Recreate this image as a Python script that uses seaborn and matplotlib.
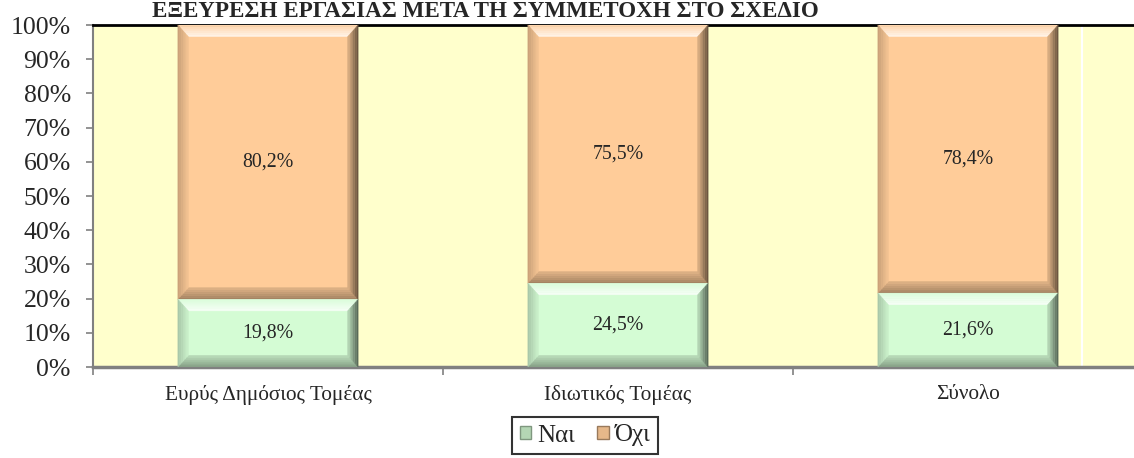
import numpy as np
import pandas as pd
import matplotlib
matplotlib.use("Agg")
import matplotlib.pyplot as plt
import seaborn as sns
from matplotlib.patches import Polygon, Patch
from matplotlib.colors import to_rgb

categories = ["Ευρύς Δημόσιος Τομέας", "Ιδιωτικός Τομέας", "Σύνολο"]
nai = [19.8, 24.5, 21.6]
oxi = [80.2, 75.5, 78.4]
series_names = ["Ναι", "Όχι"]
title = "ΕΞΕΥΡΕΣΗ ΕΡΓΑΣΙΑΣ ΜΕΤΑ ΤΗ ΣΥΜΜΕΤΟΧΗ ΣΤΟ ΣΧΕΔΙΟ"

df = pd.DataFrame({"cat": categories, "nai": nai, "oxi": oxi})
df["total"] = df["nai"] + df["oxi"]

sns.set_style("white")
plt.rcParams["font.family"] = ["Liberation Serif", "DejaVu Serif"]

green = "#D4FCD4"
orange = "#FFCC99"
bg = "#FFFFCC"


def shade(c, f):
    r, g, b = to_rgb(c)
    if f >= 0:
        return (r + (1 - r) * f, g + (1 - g) * f, b + (1 - b) * f)
    return (r * (1 + f), g * (1 + f), b * (1 + f))


def bevel(ax, p, face, bands=6):
    # soft 3d bevel built from the bar's own rectangle
    x0, y0 = p.get_x(), p.get_y()
    x1, y1 = x0 + p.get_width(), y0 + p.get_height()
    dx, dy = 0.03, 3.4
    # (outer shade, inner shade) for top, bottom, left, right
    sides = {"top": (0.15, 0.8), "bottom": (-0.38, -0.12),
             "left": (-0.22, -0.04), "right": (-0.62, -0.12)}
    edges = np.linspace(0, 1, bands + 1)
    for a, b in zip(edges[:-1], edges[1:]):
        t = (a + b) / 2
        polys = {
            "top": [(x0 + dx * a, y1 - dy * a), (x1 - dx * a, y1 - dy * a),
                    (x1 - dx * b, y1 - dy * b), (x0 + dx * b, y1 - dy * b)],
            "bottom": [(x0 + dx * a, y0 + dy * a), (x1 - dx * a, y0 + dy * a),
                       (x1 - dx * b, y0 + dy * b), (x0 + dx * b, y0 + dy * b)],
            "left": [(x0 + dx * a, y0 + dy * a), (x0 + dx * b, y0 + dy * b),
                     (x0 + dx * b, y1 - dy * b), (x0 + dx * a, y1 - dy * a)],
            "right": [(x1 - dx * a, y0 + dy * a), (x1 - dx * b, y0 + dy * b),
                      (x1 - dx * b, y1 - dy * b), (x1 - dx * a, y1 - dy * a)],
        }
        for side, pts in polys.items():
            lo, hi = sides[side]
            col = shade(face, lo + (hi - lo) * t)
            ax.add_patch(Polygon(pts, closed=True, facecolor=col, edgecolor=col,
                                 lw=0.3, zorder=3))


fig = plt.figure(figsize=(11.34, 4.58), dpi=100)
ax = fig.add_axes([93 / 1134, 1 - 367 / 458, 1050 / 1134, 342 / 458])
ax.set_facecolor(bg)

# orange drawn full height first, then moved onto the green part
sns.barplot(data=df, x="cat", y="total", color=orange, width=0.515, saturation=1, ax=ax, zorder=2)
n = len(categories)
orange_patches = list(ax.patches[:n])
sns.barplot(data=df, x="cat", y="nai", color=green, width=0.515, saturation=1, ax=ax, zorder=2)
green_patches = list(ax.patches[n:2 * n])

for p, b, h in zip(orange_patches, nai, oxi):
    p.set_y(b)
    p.set_height(h)
    p.set_edgecolor("none")
for p in green_patches:
    p.set_edgecolor("none")

for p in orange_patches:
    bevel(ax, p, orange)
for p in green_patches:
    bevel(ax, p, green)

fmt = lambda v: f"{v:.1f}".replace(".", ",") + "%"
for i in range(n):
    ax.text(i, nai[i] / 2, fmt(nai[i]), ha="center", va="center", fontsize=14.3, zorder=5)
    ax.text(i, nai[i] + oxi[i] / 2, fmt(oxi[i]), ha="center", va="center", fontsize=14.3, zorder=5)

ax.axvline(2.326, color="white", lw=1.5, zorder=1)

ax.set_xlim(-0.5, n - 0.5)
ax.set_ylim(0, 100)
ax.set_xlabel("")
ax.set_ylabel("")
ax.set_yticks(np.arange(0, 101, 10))
ax.set_yticklabels([f"{v}%" for v in range(0, 101, 10)], fontsize=18.5)
ax.tick_params(axis="y", direction="out", length=5, width=1.2, color="#808080", pad=11, left=True)
ax.set_xticks(range(n))
ax.set_xticklabels(categories, fontsize=15.3)
ax.tick_params(axis="x", which="major", length=0, pad=13)
ax.set_xticks(np.arange(-0.5, n, 1), minor=True)
ax.tick_params(axis="x", which="minor", direction="out", length=6, width=1.2, color="#808080", bottom=True)

for s in ["left", "bottom"]:
    ax.spines[s].set_color("#808080")
ax.spines["left"].set_linewidth(1.5)
ax.spines["bottom"].set_linewidth(2.5)
ax.spines["top"].set_color("black")
ax.spines["top"].set_linewidth(2)
ax.spines["right"].set_visible(False)

fig.text(485 / 1134, 1 - 17 / 458, title, ha="center", va="baseline",
         fontsize=16.6, fontweight="bold")

handles = [Patch(facecolor=shade(green, -0.15), edgecolor=shade(green, -0.4)),
           Patch(facecolor=shade(orange, -0.1), edgecolor=shade(orange, -0.4))]
leg = fig.legend(handles, series_names, loc="upper center",
                 bbox_to_anchor=(585 / 1134, 1 - 417 / 458), ncol=2, frameon=True,
                 fancybox=False, edgecolor="black", fontsize=18, handlelength=0.45,
                 handleheight=0.45, handletextpad=0.25, columnspacing=0.9,
                 borderpad=0.3, borderaxespad=0)
leg.get_frame().set_linewidth(1.5)

fig.savefig("out.png", dpi=100)
